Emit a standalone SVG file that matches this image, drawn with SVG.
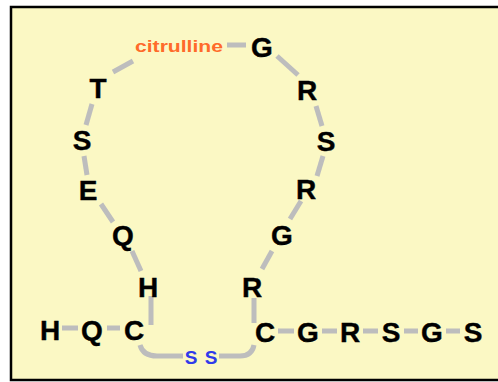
<svg xmlns="http://www.w3.org/2000/svg" width="498" height="382" viewBox="0 0 498 382">
<style>
.aa{font-family:"Liberation Sans",Arial,sans-serif;font-weight:bold;font-size:28px;fill:#000;stroke:#000;stroke-width:0.4;text-anchor:middle;dominant-baseline:central}
.cit{font-family:"Liberation Sans",Arial,sans-serif;font-weight:bold;font-size:17px;fill:#FF6A2A}
.ss{font-family:"Liberation Sans",Arial,sans-serif;font-weight:bold;font-size:19px;fill:#2F3BEA;text-anchor:middle;dominant-baseline:central}
.ln{stroke:#BDBDBD;stroke-width:5;fill:none;stroke-linecap:butt}
</style>
<rect x="11" y="7" width="500" height="373" fill="#FBF8C4" stroke="#000" stroke-width="2.5"/>
<g id="connectors">
<line class="ln" x1="113" y1="72" x2="133" y2="61"/>
<line class="ln" x1="227" y1="45" x2="246" y2="45"/>
<line class="ln" x1="277" y1="56" x2="298" y2="75"/>
<line class="ln" x1="316" y1="106" x2="322" y2="126"/>
<line class="ln" x1="323" y1="156" x2="317" y2="176"/>
<line class="ln" x1="301" y1="201" x2="290" y2="219"/>
<line class="ln" x1="272" y1="251" x2="262" y2="269"/>
<line class="ln" x1="92" y1="104" x2="86" y2="125"/>
<line class="ln" x1="84" y1="156" x2="87" y2="175"/>
<line class="ln" x1="101" y1="204" x2="113" y2="222"/>
<line class="ln" x1="132" y1="251" x2="141" y2="271"/>
<line class="ln" x1="151" y1="296" x2="151" y2="325"/>
<line class="ln" x1="254" y1="298" x2="254" y2="323"/>
<line class="ln" x1="62" y1="328" x2="78" y2="328"/>
<line class="ln" x1="107" y1="328" x2="120" y2="328"/>
<path class="ln" d="M140,345 Q143,356 157,356 L183,356"/>
<path class="ln" d="M219,356 L240,356 Q252,356 254,345"/>
<line class="ln" x1="278" y1="331" x2="294" y2="331"/>
<line class="ln" x1="322" y1="331" x2="337" y2="331"/>
<line class="ln" x1="363" y1="331" x2="378" y2="331"/>
<line class="ln" x1="404" y1="331" x2="418" y2="331"/>
<line class="ln" x1="446" y1="331" x2="460" y2="331"/>
</g>
<g id="citrulline"><text class="cit" x="135" y="52" textLength="88" lengthAdjust="spacingAndGlyphs">citrulline</text></g>
<g id="G1"><text class="aa" x="262" y="47">G</text></g>
<g id="R1"><text class="aa" x="307" y="90">R</text></g>
<g id="S1"><text class="aa" x="326" y="141">S</text></g>
<g id="R2"><text class="aa" x="306" y="189">R</text></g>
<g id="G2"><text class="aa" x="282" y="235">G</text></g>
<g id="R3"><text class="aa" x="252" y="287">R</text></g>
<g id="T"><text class="aa" x="98" y="88">T</text></g>
<g id="S0"><text class="aa" x="82" y="140">S</text></g>
<g id="E"><text class="aa" x="88" y="190">E</text></g>
<g id="Q1"><text class="aa" x="123" y="235">Q</text></g>
<g id="H1"><text class="aa" x="148" y="287">H</text></g>
<g id="H0"><text class="aa" x="50" y="330">H</text></g>
<g id="Q0"><text class="aa" x="92" y="330">Q</text></g>
<g id="C1"><text class="aa" x="134" y="330">C</text></g>
<g id="SS"><text class="ss" x="191" y="357">S</text><text class="ss" x="211" y="357">S</text></g>
<g id="C2"><text class="aa" x="265" y="332">C</text></g>
<g id="G3"><text class="aa" x="308" y="332">G</text></g>
<g id="R4"><text class="aa" x="350" y="332">R</text></g>
<g id="S2"><text class="aa" x="391" y="332">S</text></g>
<g id="G4"><text class="aa" x="432" y="332">G</text></g>
<g id="S3"><text class="aa" x="473" y="332">S</text></g>
</svg>
